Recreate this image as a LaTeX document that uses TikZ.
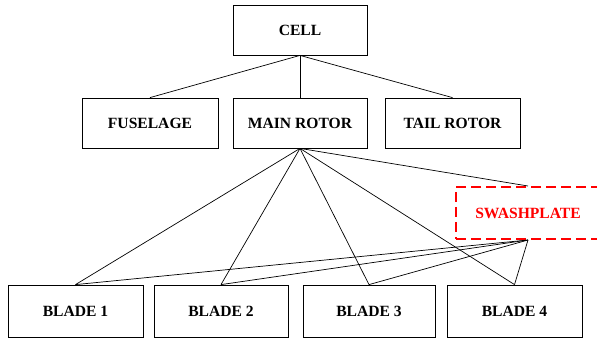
\documentclass[tikz,border=0pt]{standalone}
\usepackage{fontspec}
\setmainfont{Liberation Serif}
\begin{document}
\begin{tikzpicture}[x=1pt,y=-1pt,
  part/.style={draw, line width=0.8pt, rectangle, minimum height=50pt, inner sep=0pt,
    font=\fontsize{15.6}{18}\selectfont\bfseries},
  link/.style={draw, line width=0.7pt},
  extra/.style={part, draw=red, text=red, line width=2pt, dash pattern=on 10pt off 5pt}]
\useasboundingbox (0,0) rectangle (597,341);
% top level
\node[part, minimum width=134pt] (cell) at (300,30) {CELL};
% second level
\node[part, minimum width=136pt] (fuse) at (150,123) {FUSELAGE};
\node[part, minimum width=134pt] (main) at (300,123) {MAIN ROTOR};
\node[part, minimum width=135pt] (tail) at (452.5,123) {TAIL ROTOR};
% swashplate
\node[extra, minimum width=144pt, minimum height=52pt] (swash) at (528,213) {SWASHPLATE};
% blades
\node[part, minimum width=135pt, minimum height=52pt] (b1) at (75.5,311) {BLADE 1};
\node[part, minimum width=134pt, minimum height=52pt] (b2) at (221,311) {BLADE 2};
\node[part, minimum width=132pt, minimum height=52pt] (b3) at (369,311) {BLADE 3};
\node[part, minimum width=135pt, minimum height=52pt] (b4) at (514.5,311) {BLADE 4};
% connectors
\foreach \t in {fuse,main,tail} \draw[link] (cell.south) -- (\t.north);
\foreach \t in {b1,b2,b3,b4,swash} \draw[link] (main.south) -- (\t.north);
\foreach \t in {b1,b2,b3,b4} \draw[link] (swash.south) -- (\t.north);
\end{tikzpicture}
\end{document}
